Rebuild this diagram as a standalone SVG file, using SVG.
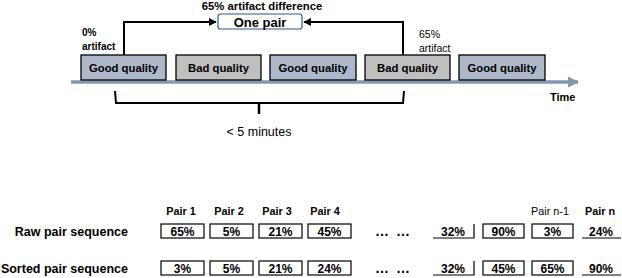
<svg xmlns="http://www.w3.org/2000/svg" width="622" height="278" viewBox="0 0 622 278">
<style>
text{font-family:"Liberation Sans",Arial,sans-serif;fill:#000}
.b{font-weight:bold}
.q{font-size:11.3px;font-weight:bold;text-anchor:middle}
.good{fill:#adb9ca;stroke:#000;stroke-width:1.3}
.bad{fill:#bfbfbf;stroke:#000;stroke-width:1.3}
.cell{fill:#fff;stroke:#000;stroke-width:1.2}
.ln{fill:none;stroke:#000;stroke-width:1.2}
.v{font-size:12px;font-weight:bold;text-anchor:middle}
.pl{font-size:10.8px;text-anchor:middle}
.con{fill:none;stroke:#000;stroke-width:2}
</style>
<defs>
<marker id="ah" viewBox="0 0 10 10" refX="9" refY="5" markerWidth="4" markerHeight="4" orient="auto"><path d="M0,0 L10,5 L0,10 z" fill="#000"/></marker>
<marker id="tah" viewBox="0 0 10 10" refX="9" refY="5" markerWidth="3.2" markerHeight="3.2" orient="auto"><path d="M0,0 L10,5 L0,10 z" fill="#8497b0"/></marker>
</defs>

<g id="timeline">
<line x1="71" y1="82" x2="578" y2="82" stroke="#8497b0" stroke-width="3.5" marker-end="url(#tah)"/>
<text x="550" y="101" class="b" font-size="11">Time</text>
</g>

<g id="seg1"><rect class="good" x="81" y="55" width="85" height="25"/><text class="q" x="123.5" y="71.5">Good quality</text></g>
<g id="seg2"><rect class="bad" x="176" y="55" width="85" height="25"/><text class="q" x="218.5" y="71.5">Bad quality</text></g>
<g id="seg3"><rect class="good" x="270" y="55" width="86" height="25"/><text class="q" x="313" y="71.5">Good quality</text></g>
<g id="seg4"><rect class="bad" x="365" y="55" width="85" height="25"/><text class="q" x="407.5" y="71.5">Bad quality</text></g>
<g id="seg5"><rect class="good" x="459" y="55" width="86" height="25"/><text class="q" x="502" y="71.5">Good quality</text></g>

<g id="lbl-left"><text x="82" y="36" class="b" font-size="10">0%</text><text x="82" y="49.5" class="b" font-size="10">artifact</text></g>
<g id="lbl-right"><text x="419" y="38" font-size="10.5">65%</text><text x="419" y="52" font-size="10.5">artifact</text></g>

<g id="onepair">
<rect x="218" y="14" width="84" height="15" rx="2.5" fill="#fff" stroke="#2f5597" stroke-width="1.2"/>
<text x="260" y="26.5" class="b" font-size="13" text-anchor="middle">One pair</text>
<text x="262" y="10" class="b" font-size="11.3" text-anchor="middle">65% artifact difference</text>
</g>

<g id="connectors">
<path class="con" d="M124,55 V22 H216" marker-end="url(#ah)"/>
<path class="con" d="M403,55 V22 H304" marker-end="url(#ah)"/>
<path d="M115,91 L116,103 H403 L404,91" fill="none" stroke="#000" stroke-width="2"/>
<line x1="259" y1="103" x2="259" y2="114" stroke="#000" stroke-width="2.5"/>
</g>
<g id="brace-label"><text x="259" y="136" font-size="12.5" text-anchor="middle">&lt; 5 minutes</text></g>

<g id="row-labels">
<text x="128" y="236" class="b" font-size="12.5" text-anchor="end">Raw pair sequence</text>
<text x="128" y="273" class="b" font-size="12.5" text-anchor="end">Sorted pair sequence</text>
</g>

<g id="pair-labels">
<text class="pl b" x="181" y="215">Pair 1</text>
<text class="pl b" x="229" y="215">Pair 2</text>
<text class="pl b" x="277" y="215">Pair 3</text>
<text class="pl b" x="325" y="215">Pair 4</text>
<text class="pl" x="550" y="215">Pair n-1</text>
<text class="pl b" x="600" y="215">Pair n</text>
</g>

<g id="raw-row">
<rect class="cell" x="161" y="224" width="43" height="14"/><text class="v" x="182.5" y="236">65%</text>
<rect class="cell" x="210" y="224" width="43" height="14"/><text class="v" x="231.5" y="236">5%</text>
<rect class="cell" x="259" y="224" width="43" height="14"/><text class="v" x="280.5" y="236">21%</text>
<rect class="cell" x="308" y="224" width="43" height="14"/><text class="v" x="329.5" y="236">45%</text>
<text x="375" y="236" class="b" font-size="14" word-spacing="3">… …</text>
<path class="ln" d="M433,238 H474 V224"/><text class="v" x="453" y="236">32%</text>
<rect class="cell" x="483" y="224" width="41" height="14"/><text class="v" x="503.5" y="236">90%</text>
<rect class="cell" x="532" y="224" width="41" height="14"/><text class="v" x="552.5" y="236">3%</text>
<path class="ln" d="M582,238 H621"/><text class="v" x="601" y="236">24%</text>
</g>

<g id="sorted-row">
<rect class="cell" x="161" y="261" width="43" height="14"/><text class="v" x="182.5" y="273">3%</text>
<rect class="cell" x="210" y="261" width="43" height="14"/><text class="v" x="231.5" y="273">5%</text>
<rect class="cell" x="259" y="261" width="43" height="14"/><text class="v" x="280.5" y="273">21%</text>
<rect class="cell" x="308" y="261" width="43" height="14"/><text class="v" x="329.5" y="273">24%</text>
<text x="375" y="273" class="b" font-size="14" word-spacing="3">… …</text>
<path class="ln" d="M433,275 H474 V261"/><text class="v" x="453" y="273">32%</text>
<rect class="cell" x="483" y="261" width="41" height="14"/><text class="v" x="503.5" y="273">45%</text>
<rect class="cell" x="532" y="261" width="41" height="14"/><text class="v" x="552.5" y="273">65%</text>
<path class="ln" d="M582,275 H621"/><text class="v" x="601" y="273">90%</text>
</g>
</svg>
